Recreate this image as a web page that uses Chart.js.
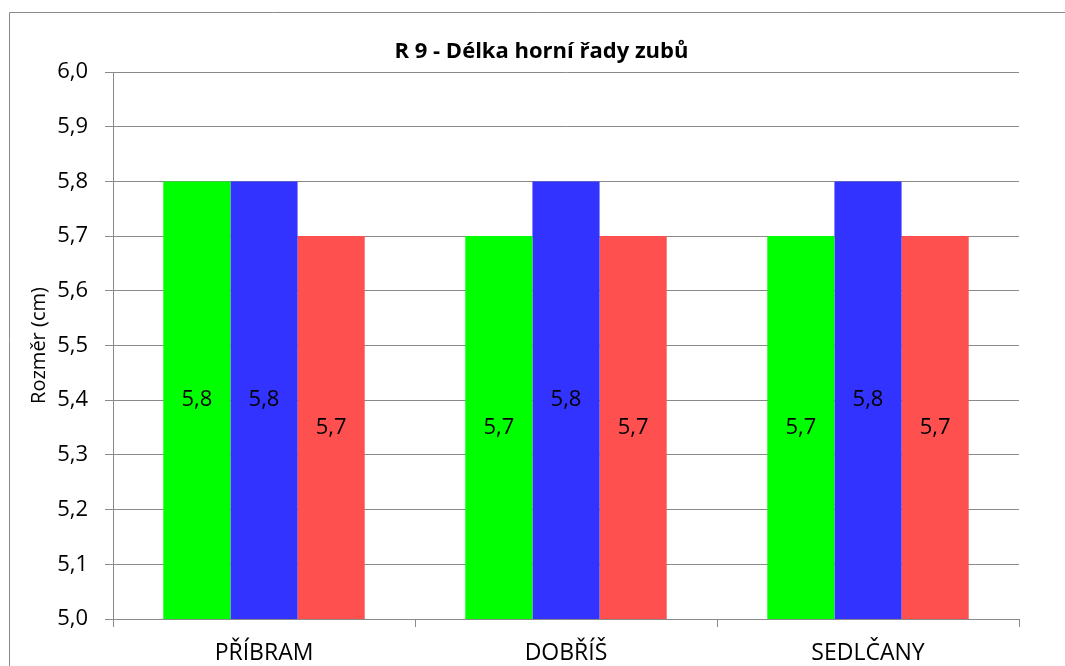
<!DOCTYPE html>
<html>
<head>
<meta charset="utf-8">
<script src="https://cdn.jsdelivr.net/npm/chart.js@4"></script>
<style>
  html, body { margin: 0; padding: 0; background: #fff; }
  #wrap { width: 1065px; height: 666px; position: relative; overflow: hidden; }
</style>
</head>
<body>
<div id="wrap"><canvas id="chart" width="1065" height="666"></canvas></div>
<script>
// towns and measured lengths (cm)
var towns = ['PŘÍBRAM', 'DOBŘÍŠ', 'SEDLČANY'];
var greenValues = [5.8, 5.7, 5.7];
var blueValues = [5.8, 5.8, 5.8];
var redValues = [5.7, 5.7, 5.7];
var yTicks = [5.0, 5.1, 5.2, 5.3, 5.4, 5.5, 5.6, 5.7, 5.8, 5.9, 6.0];

var fontFamily = "'Open Sans', 'Noto Sans', sans-serif";

function comma(v) {
    return Number(v).toFixed(1).replace('.', ',');
}

// frame around the whole chart (only left and top edges are visible)
var framePlugin = {
    id: 'frame',
    afterLayout: function (chart) {
        // title is centred on the full frame, which runs past the right edge
        if (chart.titleBlock) {
            chart.titleBlock.left += 23;
            chart.titleBlock.right += 23;
        }
    },
    beforeDraw: function (chart) {
        var c = chart.ctx;
        c.save();
        c.strokeStyle = '#8a8a8a';
        c.lineWidth = 1;
        c.beginPath();
        c.moveTo(9.5, 700);
        c.lineTo(9.5, 12.5);
        c.lineTo(1070, 12.5);
        c.stroke();
        c.restore();
    }
};

// value labels in the middle of the visible part of each bar
var barLabels = {
    id: 'valueLabels',
    afterDatasetsDraw: function (chart) {
        var c = chart.ctx;
        var bottom = chart.chartArea.bottom;
        c.save();
        c.font = '22px ' + fontFamily;
        c.fillStyle = '#000';
        c.textAlign = 'center';
        c.textBaseline = 'middle';
        chart.data.datasets.forEach(function (ds, i) {
            chart.getDatasetMeta(i).data.forEach(function (bar, j) {
                var p = bar.getProps(['x', 'y', 'base'], true);
                var base = Math.min(p.base, bottom);
                c.fillText(comma(ds.data[j]), p.x, (p.y + base) / 2);
            });
        });
        c.restore();
    }
};

var chartCtx = document.getElementById('chart').getContext('2d');
new Chart(chartCtx, {
    type: 'bar',
    data: {
        labels: towns,
        datasets: [
            { data: greenValues, backgroundColor: '#00ff00' },
            { data: blueValues, backgroundColor: '#3333ff' },
            { data: redValues, backgroundColor: '#ff5050' }
        ]
    },
    options: {
        responsive: false,
        animation: false,
        layout: { padding: { left: 18, top: 28, right: 46, bottom: 0 } },
        datasets: { bar: { categoryPercentage: 0.667, barPercentage: 1.0 } },
        plugins: {
            legend: { display: false },
            tooltip: { enabled: false },
            title: {
                display: true,
                text: 'R 9 - Délka horní řady zubů',
                color: '#000',
                font: { family: fontFamily, size: 22, weight: 'bold', lineHeight: 1.2 },
                padding: { top: 11, bottom: 6.6 }
            }
        },
        scales: {
            x: {
                offset: true,
                grid: {
                    display: true,
                    offset: true,
                    drawOnChartArea: false,
                    color: '#8a8a8a',
                    tickLength: 8
                },
                border: { color: '#8a8a8a' },
                ticks: {
                    color: '#000',
                    font: { family: fontFamily, size: 23 },
                    padding: 13
                },
                afterFit: function (scale) { scale.height = 47; }
            },
            y: {
                min: 5.0,
                max: 6.0,
                afterBuildTicks: function (scale) {
                    scale.ticks = yTicks.map(function (v) { return { value: v }; });
                },
                grid: { color: '#8a8a8a', tickLength: 8 },
                border: { color: '#8a8a8a' },
                ticks: {
                    color: '#000',
                    font: { family: fontFamily, size: 22 },
                    padding: 17,
                    callback: function (v) { return comma(v); }
                },
                title: {
                    display: true,
                    text: 'Rozměr (cm)',
                    color: '#000',
                    font: { family: fontFamily, size: 20 },
                    padding: { top: 9, bottom: 0 }
                },
                afterFit: function (scale) { scale.width = 95; }
            }
        }
    },
    plugins: [framePlugin, barLabels]
});
</script>
</body>
</html>
